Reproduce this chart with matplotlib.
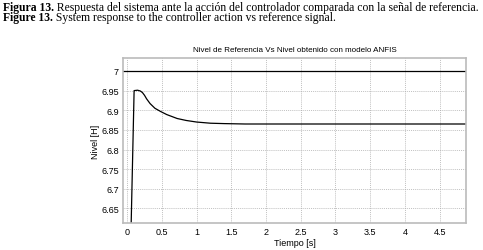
import matplotlib
matplotlib.use('Agg')
import matplotlib.pyplot as plt

# Data
ref_level = 7.0
t = [0.0, 0.05, 0.1, 0.15, 0.19, 0.22, 0.25, 0.28, 0.33, 0.4, 0.48, 0.57, 0.72, 0.85, 1.0, 1.2, 1.4, 1.7, 2.0, 4.9]
nivel = [0.0, 6.55, 6.95, 6.951, 6.949, 6.945, 6.938, 6.929, 6.917, 6.905, 6.897, 6.889, 6.879, 6.874, 6.870,
         6.867, 6.866, 6.865, 6.865, 6.865]
xticks = [0, 0.5, 1, 1.5, 2, 2.5, 3, 3.5, 4, 4.5]
xtick_labels = ['0', '0.5', '1', '1.5', '2', '2.5', '3', '3.5', '4', '4.5']
yticks = [6.65, 6.7, 6.75, 6.8, 6.85, 6.9, 6.95, 7.0]
ytick_labels = ['6.65', '6.7', '6.75', '6.8', '6.85', '6.9', '6.95', '7']

title = 'Nivel de Referencia Vs Nivel obtenido con modelo ANFIS'
caption_es = ('Figura 13.', ' Respuesta del sistema ante la acción del controlador comparada con la señal de referencia.')
caption_en = ('Figure 13.', ' System response to the controller action vs reference signal.')

narrow = ['Liberation Sans Narrow', 'Liberation Sans', 'DejaVu Sans']
serif = ['Liberation Serif', 'DejaVu Serif']

fig = plt.figure(figsize=(4.83, 2.51), dpi=100)
ax = fig.add_axes([123 / 483, 1 - 224 / 251, (466 - 123) / 483, (224 - 59) / 251])

ax.axhline(ref_level, color='black', lw=0.9)
ax.plot(t, nivel, color='black', lw=0.9)

ax.set_xlim(-0.06, 4.88)
ax.set_ylim(6.613, 7.033)
ax.set_xticks(xticks)
ax.set_xticklabels(xtick_labels, family=narrow, fontsize=6.5)
ax.set_yticks(yticks)
ax.set_yticklabels(ytick_labels, family=narrow, fontsize=6.5)
ax.tick_params(length=0, pad=3)
ax.grid(True, color='#aaaaaa', linestyle=(0, (1.5, 1.5)), lw=0.5)
for s in ax.spines.values():
    s.set_color('#bbbbbb')
    s.set_linewidth(1.2)

ax.set_title(title, family=narrow, fontsize=5.8, pad=5)
ax.set_xlabel('Tiempo [s]', family=narrow, fontsize=6.5, labelpad=1)
ax.set_ylabel('Nivel [H]', family=narrow, fontsize=6.5, labelpad=1)

# caption: bold prefix followed by normal text
fig.canvas.draw()
r = fig.canvas.get_renderer()
for (bold, rest), y in [(caption_es, 1 - 7.5 / 251), (caption_en, 1 - 18 / 251)]:
    tb = fig.text(3 / 483, y, bold, family=serif, fontsize=8.4, fontweight='bold', va='center')
    bb = tb.get_window_extent(r)
    fig.text(bb.x1 / fig.bbox.width, y, rest, family=serif, fontsize=8.4, va='center')

fig.savefig('out.png', dpi=100)
